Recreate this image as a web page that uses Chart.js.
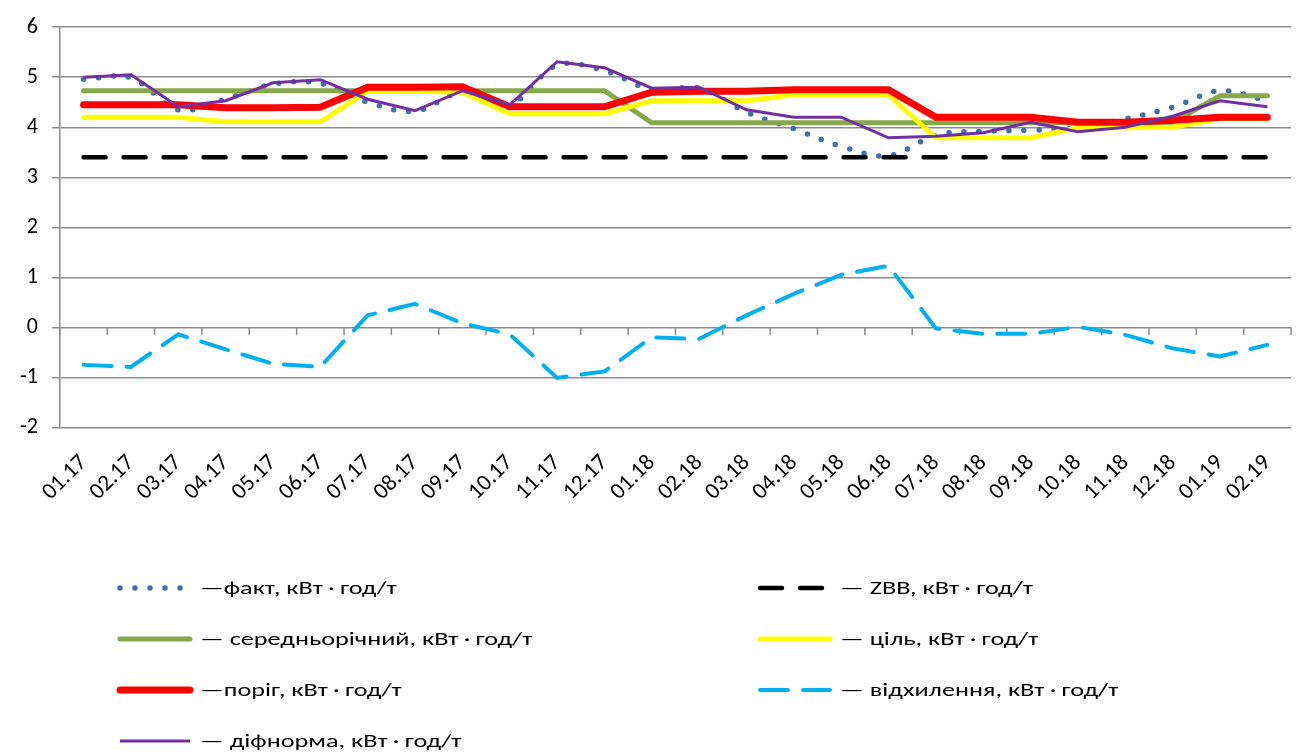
<!DOCTYPE html>
<html>
<head>
<meta charset="utf-8">
<script src="https://cdn.jsdelivr.net/npm/chart.js@4"></script>
<style>
  html, body { margin: 0; padding: 0; background: #fff; }
  #wrap { width: 1301px; height: 755px; }
</style>
</head>
<body>
<div id="wrap"><canvas id="chart"></canvas></div>
<script>
// ==========================================
// DATA
// ==========================================
const months = ['01.17', '02.17', '03.17', '04.17', '05.17', '06.17', '07.17', '08.17', '09.17', '10.17', '11.17', '12.17',
                '01.18', '02.18', '03.18', '04.18', '05.18', '06.18', '07.18', '08.18', '09.18', '10.18', '11.18', '12.18',
                '01.19', '02.19'];

const fakt      = [4.96, 4.99, 4.35, 4.56, 4.86, 4.88, 4.50, 4.32, 4.70, 4.45, 5.24, 5.13,
                   4.75, 4.78, 4.30, 3.97, 3.62, 3.43, 3.84, 3.92, 3.94, 3.99, 4.17, 4.40, 4.73, 4.53];
const zbb       = [3.4, 3.4, 3.4, 3.4, 3.4, 3.4, 3.4, 3.4, 3.4, 3.4, 3.4, 3.4,
                   3.4, 3.4, 3.4, 3.4, 3.4, 3.4, 3.4, 3.4, 3.4, 3.4, 3.4, 3.4, 3.4, 3.4];
const avgYear   = [4.73, 4.73, 4.73, 4.73, 4.73, 4.73, 4.73, 4.73, 4.73, 4.73, 4.73, 4.73,
                   4.09, 4.09, 4.09, 4.09, 4.09, 4.09, 4.09, 4.09, 4.09, 4.09, 4.09, 4.10, 4.63, 4.63];
const target    = [4.20, 4.20, 4.20, 4.11, 4.11, 4.11, 4.72, 4.72, 4.70, 4.27, 4.27, 4.27,
                   4.53, 4.53, 4.53, 4.65, 4.65, 4.65, 3.79, 3.79, 3.79, 3.99, 3.99, 4.00, 4.17, 4.17];
const threshold = [4.45, 4.45, 4.45, 4.39, 4.39, 4.40, 4.80, 4.80, 4.81, 4.41, 4.41, 4.41,
                   4.70, 4.72, 4.72, 4.75, 4.75, 4.75, 4.20, 4.20, 4.20, 4.10, 4.10, 4.14, 4.20, 4.20];
const deviation = [-0.75, -0.79, -0.14, -0.44, -0.73, -0.79, 0.24, 0.47, 0.08, -0.14, -1.01, -0.88,
                   -0.20, -0.23, 0.24, 0.67, 1.05, 1.23, -0.02, -0.13, -0.13, 0.01, -0.15, -0.42, -0.58, -0.35];
const difNorm   = [5.00, 5.05, 4.41, 4.53, 4.89, 4.95, 4.56, 4.33, 4.73, 4.45, 5.31, 5.19,
                   4.78, 4.80, 4.35, 4.20, 4.20, 3.79, 3.82, 3.89, 4.10, 3.91, 4.00, 4.22, 4.53, 4.41];

const yTicks = { min: -2, max: 6, step: 1 };

const FONT = "Carlito, Lato, 'Liberation Sans', sans-serif";
const UNIT = 'кВт\u2009·\u2009год/т';

// ==========================================
// PLUGINS
// ==========================================
// tick marks of the category axis sit on the zero line
const zeroTicks = {
    id: 'zeroTicks',
    beforeDatasetsDraw(chart) {
        const { ctx, chartArea, scales } = chart;
        const y0 = scales.y.getPixelForValue(0);
        const w = chartArea.width / months.length;
        ctx.save();
        ctx.strokeStyle = '#8c8c8c';
        ctx.lineWidth = 1.5;
        ctx.beginPath();
        for (let i = 0; i <= months.length; i++) {
            const x = chartArea.left + i * w;
            ctx.moveTo(x, y0);
            ctx.lineTo(x, y0 + 8);
        }
        ctx.stroke();
        ctx.restore();
    }
};

// two-column legend below the axis labels (text is drawn a bit wide, like the original)
const gridLegend = {
    id: 'gridLegend',
    afterDraw(chart) {
        const { ctx } = chart;
        const cols = [120, 760];
        const rowY = 588, rowStep = 51, sampleLen = 70;
        ctx.save();
        chart.data.datasets.forEach((ds, i) => {
            const x = cols[i % 2];
            const y = rowY + Math.floor(i / 2) * rowStep;
            ctx.beginPath();
            ctx.strokeStyle = ds.borderColor;
            ctx.lineWidth = ds.borderWidth;
            ctx.lineCap = ds.borderCapStyle || 'butt';
            ctx.setLineDash(ds.borderDash || []);
            ctx.moveTo(x, y);
            ctx.lineTo(x + sampleLen, y);
            ctx.stroke();
            ctx.setLineDash([]);

            ctx.save();
            ctx.translate(x + sampleLen + 10, y + 1);
            ctx.scale(1.38, 1);
            ctx.fillStyle = '#000';
            ctx.font = '19px ' + FONT;
            ctx.textBaseline = 'middle';
            ctx.fillText(ds.label, 0, 0);
            ctx.restore();
        });
        ctx.restore();
    }
};

// ==========================================
// CHART
// ==========================================
function makeLine(label, data, color, width, extra) {
    return Object.assign({
        label: label,
        data: data,
        borderColor: color,
        backgroundColor: color,
        borderWidth: width,
        pointRadius: 0,
        fill: false,
        tension: 0
    }, extra);
}

const datasets = [
    makeLine('—факт, ' + UNIT, fakt, '#3f6faf', 5.5, { borderDash: [0, 15], borderCapStyle: 'round', tension: 0.35, order: 7 }),
    makeLine('— ZBB, ' + UNIT, zbb, '#000000', 4.5, { borderDash: [22, 18], borderCapStyle: 'round', order: 6 }),
    makeLine('— середньорічний, ' + UNIT, avgYear, '#88a64a', 5, { borderCapStyle: 'round', order: 5 }),
    makeLine('— ціль, ' + UNIT, target, '#ffff00', 5, { borderCapStyle: 'round', order: 4 }),
    makeLine('—поріг, ' + UNIT, threshold, '#ff0000', 7, { borderCapStyle: 'round', order: 3 }),
    makeLine('— відхилення, ' + UNIT, deviation, '#00b0f0', 4, { borderDash: [28, 15], borderCapStyle: 'round', order: 2 }),
    makeLine('— діфнорма, ' + UNIT, difNorm, '#7030a0', 3, { order: 1 })
];

new Chart(document.getElementById('chart'), {
    type: 'line',
    data: { labels: months, datasets: datasets },
    plugins: [zeroTicks, gridLegend],
    options: {
        responsive: true,
        maintainAspectRatio: false,
        animation: false,
        layout: { padding: { left: 6, right: 6, top: 10, bottom: 235 } },
        plugins: {
            legend: { display: false },
            tooltip: { enabled: false }
        },
        scales: {
            x: {
                offset: true,
                grid: { display: false },
                border: { display: false },
                ticks: {
                    color: '#000',
                    minRotation: 45,
                    maxRotation: 45,
                    autoSkip: false,
                    padding: 14,
                    font: { family: FONT, size: 23 }
                }
            },
            y: {
                min: yTicks.min,
                max: yTicks.max,
                ticks: {
                    stepSize: yTicks.step,
                    color: '#000',
                    padding: 14,
                    font: { family: FONT, size: 22 }
                },
                grid: { color: '#8c8c8c', lineWidth: 1.5, tickLength: 8 },
                border: { color: '#8c8c8c', width: 1.5 }
            }
        }
    }
});
</script>
</body>
</html>
